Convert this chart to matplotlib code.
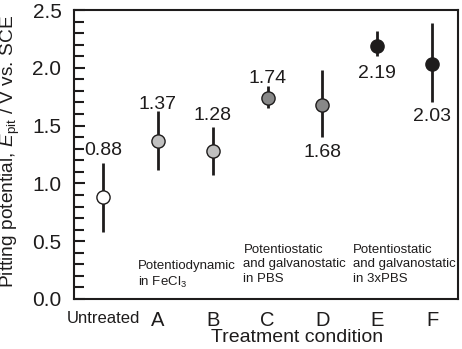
import matplotlib
matplotlib.use("Agg")
import matplotlib.pyplot as plt
from matplotlib.ticker import MultipleLocator

plt.rcParams['font.family'] = ['Liberation Sans', 'DejaVu Sans']
plt.rcParams['mathtext.fontset'] = 'custom'
plt.rcParams['mathtext.rm'] = 'Liberation Sans'
plt.rcParams['mathtext.it'] = 'Liberation Sans:italic'

categories = ["Untreated", "A", "B", "C", "D", "E", "F"]
means = [0.88, 1.37, 1.28, 1.74, 1.68, 2.19, 2.03]
err_low = [0.30, 0.25, 0.21, 0.09, 0.28, 0.09, 0.33]
err_high = [0.30, 0.26, 0.21, 0.10, 0.30, 0.13, 0.36]
colors = ["#ffffff", "#c0c0c0", "#c0c0c0", "#888888", "#888888", "#1e1c1c", "#1e1c1c"]
labels = ["0.88", "1.37", "1.28", "1.74", "1.68", "2.19", "2.03"]
label_y = [1.285, 1.685, 1.585, 1.905, 1.265, 1.955, 1.575]
groups = ["Potentiodynamic\nin FeCl$_3$",
          "Potentiostatic\nand galvanostatic\nin PBS",
          "Potentiostatic\nand galvanostatic\nin 3xPBS"]
group_x = [0.63, 2.56, 4.56]
group_top = [0.34, 0.48, 0.48]

fig = plt.figure(figsize=(4.62, 3.49), dpi=100)
ax = fig.add_axes([0.160, 0.1433, 0.831, 0.828])

x = list(range(len(categories)))
for i in x:
    ax.errorbar(i, means[i], yerr=[[err_low[i]], [err_high[i]]], fmt='o',
                color='black', ecolor='#1e1c1c', elinewidth=2, capsize=0,
                markersize=9.5, markerfacecolor=colors[i],
                markeredgecolor='#1e1c1c', markeredgewidth=1.0, zorder=3)
    ax.text(i, label_y[i], labels[i], ha='center', va='center', fontsize=14,
            color='#1e1c1c')

for gx, gt, gy in zip(group_x, groups, group_top):
    ax.text(gx, gy, gt, ha='left', va='top', fontsize=9.5, color='#1e1c1c',
            linespacing=1.3)

ax.set_xlim(-0.53, 6.47)
ax.set_ylim(0, 2.5)
ax.set_xticks(x)
ax.set_xticklabels(categories)
for i, t in enumerate(ax.get_xticklabels()):
    t.set_fontsize(12 if i == 0 else 14.5)
ax.tick_params(axis='x', length=0, pad=8.5, colors='#1e1c1c')
ax.yaxis.set_major_locator(MultipleLocator(0.5))
ax.yaxis.set_minor_locator(MultipleLocator(0.1))
ax.tick_params(axis='y', which='major', direction='in', length=8, width=1.5,
               labelsize=15, pad=9, colors='#1e1c1c')
ax.tick_params(axis='y', which='minor', direction='in', length=7, width=1.5,
               colors='#1e1c1c')
for s in ax.spines.values():
    s.set_linewidth(1.5)
    s.set_color('#1e1c1c')

fig.text(0.643, 0.019, "Treatment condition", fontsize=14, ha='center',
         va='baseline', color='#1e1c1c')
ax.set_ylabel("Pitting potential, $E_\\mathrm{pit}$ / V vs. SCE", fontsize=13.8,
              color='#1e1c1c')
ax.yaxis.set_label_coords(-0.134, 0.512)

fig.savefig("out.png", dpi=100)
